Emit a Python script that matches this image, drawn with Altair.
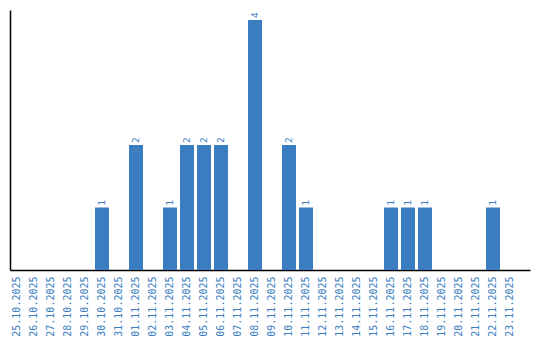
import altair as alt
import pandas as pd

dates = ["25.10.2025", "26.10.2025", "27.10.2025", "28.10.2025", "29.10.2025",
         "30.10.2025", "31.10.2025", "01.11.2025", "02.11.2025", "03.11.2025",
         "04.11.2025", "05.11.2025", "06.11.2025", "07.11.2025", "08.11.2025",
         "09.11.2025", "10.11.2025", "11.11.2025", "12.11.2025", "13.11.2025",
         "14.11.2025", "15.11.2025", "16.11.2025", "17.11.2025", "18.11.2025",
         "19.11.2025", "20.11.2025", "21.11.2025", "22.11.2025", "23.11.2025"]
counts = [0, 0, 0, 0, 0,
          1, 0, 2, 0, 1,
          2, 2, 2, 0, 4,
          0, 2, 1, 0, 0,
          0, 0, 1, 1, 1,
          0, 0, 0, 1, 0]

df = pd.DataFrame({"date": dates, "count": counts})
color = "#3a7dc1"

x = alt.X("date:N", sort=dates, title=None,
          scale=alt.Scale(paddingInner=0.1765, paddingOuter=0.382, align=0),
          axis=alt.Axis(labelAngle=-90, labelFont="DejaVu Sans Mono", labelFontSize=10,
                        labelColor=color, ticks=False, domainColor="black",
                        domainWidth=1.5, labelPadding=6, grid=False))
y = alt.Y("count:Q", title=None, scale=alt.Scale(domain=[0, 4.16], nice=False),
          axis=alt.Axis(labels=False, ticks=False, grid=False, domainColor="black",
                        domainWidth=1.5))

bars = alt.Chart(df).mark_bar(color=color).encode(x=x, y=y)
labels = alt.Chart(df).transform_filter("datum.count > 0").mark_text(
    angle=270, align="left", baseline="middle", dx=2, fontSize=9,
    font="DejaVu Sans", color=color
).encode(x=x, y=y, text="count:Q")

chart = (bars + labels).properties(
    width=520, height=260,
    background="white",
    autosize=alt.AutoSizeParams(type="none"),
    padding={"left": 10, "top": 10, "right": 10, "bottom": 70},
).configure_view(strokeWidth=0)

chart.save("out.html", embed_options={"renderer": "svg", "actions": False})
